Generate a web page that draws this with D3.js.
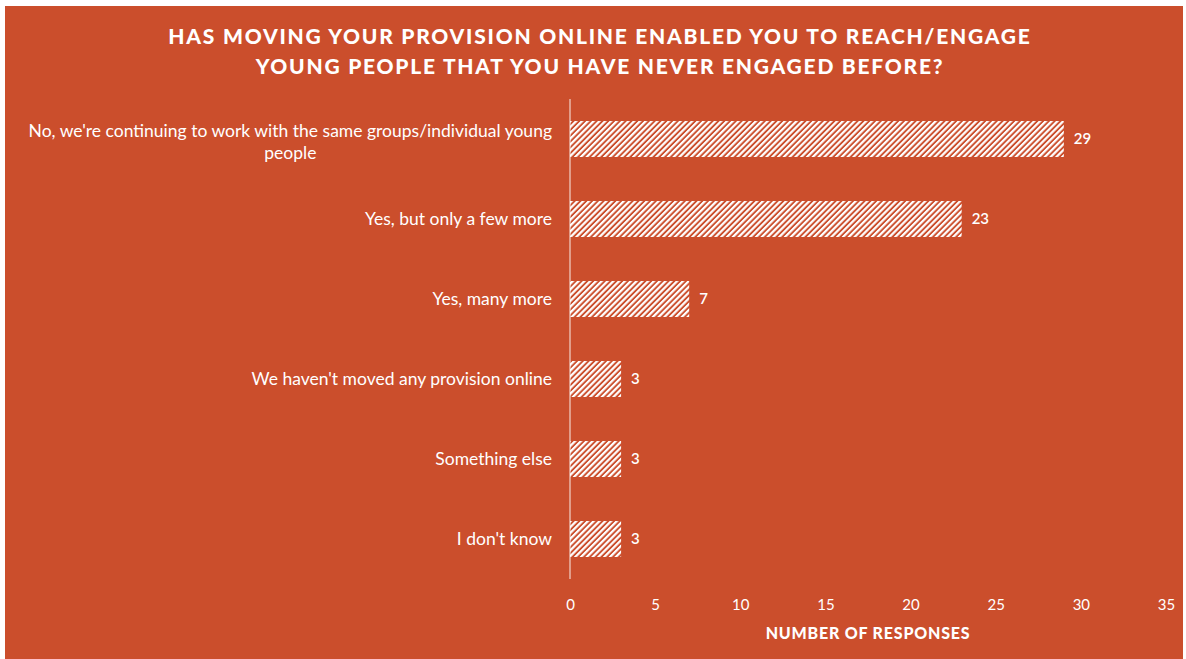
<!DOCTYPE html>
<html>
<head>
<meta charset="utf-8">
<script src="https://cdn.jsdelivr.net/npm/d3@7"></script>
<style>
  html, body { margin: 0; padding: 0; background: #ffffff; }
  svg { display: block; }
</style>
</head>
<body>
<svg id="chart" width="1186" height="659"></svg>
<script>
// Survey answers, top to bottom
const categories = [
  "No, we're continuing to work with the same groups/individual young people",
  "Yes, but only a few more",
  "Yes, many more",
  "We haven't moved any provision online",
  "Something else",
  "I don't know"
];
const responses = [29, 23, 7, 3, 3, 3];
const xTicks = [0, 5, 10, 15, 20, 25, 30, 35];
const titleLines = [
  "HAS MOVING YOUR PROVISION ONLINE ENABLED YOU TO REACH/ENGAGE",
  "YOUNG PEOPLE THAT YOU HAVE NEVER ENGAGED BEFORE?"
];
const axisTitle = "NUMBER OF RESPONSES";

const W = 1186, H = 659;
const bg = "#CB4E2C";
const svg = d3.select("#chart");

// Panel
svg.append("rect").attr("x", 5).attr("y", 6).attr("width", 1178).attr("height", 653).attr("fill", bg);

// Diagonal hatch for bars
const defs = svg.append("defs");
const pat = defs.append("pattern")
  .attr("id", "hatch")
  .attr("patternUnits", "userSpaceOnUse")
  .attr("width", 4.1).attr("height", 8)
  .attr("patternTransform", "rotate(45)");
pat.append("rect").attr("width", 4.1).attr("height", 8).attr("fill", bg);
pat.append("rect").attr("width", 2.2).attr("height", 8).attr("fill", "#ffffff");

const x = d3.scaleLinear().domain([0, 35]).range([570, 1166]);
const y = d3.scaleBand().domain(categories).range([99, 579]).paddingInner(0.55).paddingOuter(0.275);

// Title
const title = svg.append("g");
titleLines.forEach((t, i) => {
  title.append("text")
    .attr("x", 600).attr("y", 44 + i * 30)
    .attr("text-anchor", "middle")
    .attr("fill", "#ffffff")
    .attr("font-family", "Lato, 'Open Sans', sans-serif")
    .attr("font-weight", 900)
    .attr("font-size", 21)
    .attr("letter-spacing", 1.75)
    .text(t);
});

// Bars
svg.append("g").selectAll("rect")
  .data(categories)
  .join("rect")
  .attr("x", x(0))
  .attr("y", d => y(d))
  .attr("width", (d, i) => x(responses[i]) - x(0))
  .attr("height", y.bandwidth())
  .attr("fill", "url(#hatch)");

// Value labels
svg.append("g").selectAll("text")
  .data(categories)
  .join("text")
  .attr("x", (d, i) => x(responses[i]) + 10)
  .attr("y", d => y(d) + y.bandwidth() / 2)
  .attr("dy", "0.36em")
  .attr("fill", "#ffffff")
  .attr("font-family", "Lato, sans-serif")
  .attr("font-weight", 600)
  .attr("font-size", 15)
  .text((d, i) => responses[i]);

// Category axis (vertical line only)
const yAxis = svg.append("g")
  .attr("transform", `translate(${x(0)},0)`)
  .call(d3.axisLeft(y).tickSize(0).tickPadding(18));
yAxis.select(".domain").attr("stroke", "rgba(255,255,255,0.6)").attr("stroke-width", 1.5)
  .attr("d", "M0,99V579");
yAxis.selectAll(".tick text")
  .attr("fill", "#ffffff")
  .attr("font-family", "Lato, sans-serif")
  .attr("font-size", 17.5)
  .each(function () {
    // wrap long labels to the space left of the axis; wrapped lines are centred on each other
    const text = d3.select(this);
    const words = text.text().split(/\s+/);
    const maxW = 540;
    text.text(null);
    let lines = [], line = [];
    const probe = text.append("tspan");
    let widest = 0;
    words.forEach(w => {
      line.push(w);
      probe.text(line.join(" "));
      if (probe.node().getComputedTextLength() > maxW && line.length > 1) {
        line.pop();
        lines.push(line.join(" "));
        line = [w];
      }
    });
    lines.push(line.join(" "));
    lines.forEach(l => {
      probe.text(l);
      widest = Math.max(widest, probe.node().getComputedTextLength());
    });
    probe.remove();
    const lh = 22;
    const off = -(lines.length - 1) * lh / 2 + (lines.length > 1 ? 3 : 0);
    if (lines.length > 1) text.attr("text-anchor", "middle");
    const tx = lines.length > 1 ? -18 - widest / 2 : -18;
    lines.forEach((l, k) => {
      text.append("tspan").attr("x", tx).attr("y", off + k * lh).attr("dy", "0.32em").text(l);
    });
  });

// Value axis ticks (labels only)
const xAxis = svg.append("g")
  .attr("transform", "translate(0,579)")
  .call(d3.axisBottom(x).tickValues(xTicks).tickSize(0).tickPadding(20));
xAxis.select(".domain").remove();
xAxis.selectAll(".tick text")
  .attr("fill", "#ffffff")
  .attr("font-family", "Lato, sans-serif")
  .attr("font-size", 15);

// Axis title
svg.append("text")
  .attr("x", (x(0) + x(35)) / 2).attr("y", 639)
  .attr("text-anchor", "middle")
  .attr("fill", "#ffffff")
  .attr("font-family", "Lato, sans-serif")
  .attr("font-weight", 900)
  .attr("font-size", 16)
  .attr("letter-spacing", 0.8)
  .text(axisTitle);
</script>
</body>
</html>
